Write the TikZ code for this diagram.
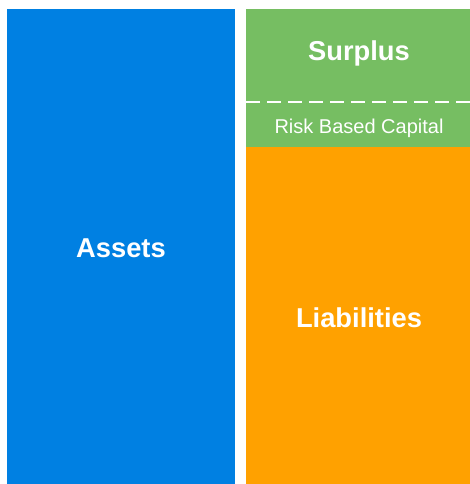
\documentclass[tikz,border=0pt]{standalone}
\usepackage{fontspec}
\setmainfont{Liberation Sans}
\definecolor{assetblue}{RGB}{0,128,226}
\definecolor{surgreen}{RGB}{118,190,98}
\definecolor{liaborange}{RGB}{255,161,0}
\begin{document}
\begin{tikzpicture}[x=1pt,y=1pt,
  bigtxt/.style={text=white,font=\fontsize{27.3}{30}\selectfont\bfseries},
  smalltxt/.style={text=white,font=\fontsize{20}{22}\selectfont}]
\useasboundingbox (0,0) rectangle (470,484);
\fill[white] (0,0) rectangle (470,484);
% assets
\fill[assetblue] (7,0) rectangle (235,475);
\node[bigtxt] (assets) at (121,236) {Assets};
% green
\fill[surgreen] (246,337) rectangle (470,475);
\coordinate (dl) at (246,382);
\coordinate (dr) at (470,382);
\draw[white, line width=2pt, dash pattern=on 14pt off 7pt] (dl) -- (dr);
\node[bigtxt] (surplus) at (359,431) {Surplus};
\node[smalltxt] (rbc) at (359,355.5) {Risk Based Capital};
% orange
\fill[liaborange] (246,0) rectangle (470,337);
\node[bigtxt] (liab) at (359,166) {Liabilities};
\end{tikzpicture}
\end{document}
